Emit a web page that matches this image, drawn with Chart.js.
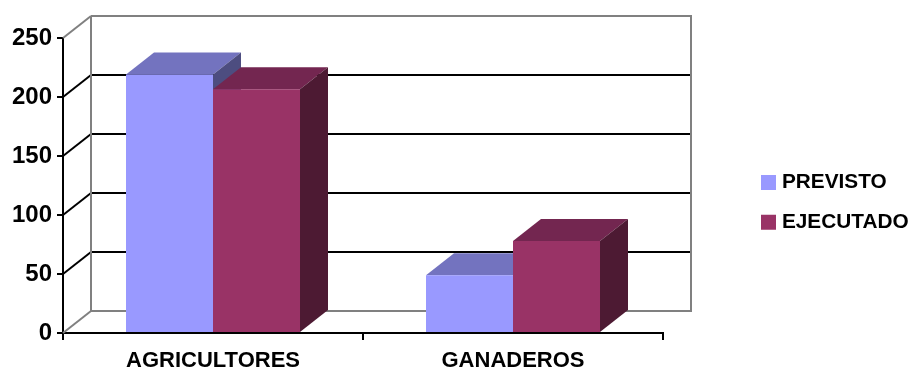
<!DOCTYPE html>
<html><head><meta charset="utf-8">
<style>html,body{margin:0;padding:0;background:#fff}#w{width:910px;height:369px;position:relative}</style>
<script src="https://cdn.jsdelivr.net/npm/chart.js@4"></script>
</head><body><div id="w"><canvas id="c"></canvas></div>
<script>
const categories = ['AGRICULTORES', 'GANADEROS'];
const previsto = [219, 49];
const ejecutado = [206.5, 78];
const seriesNames = ['PREVISTO', 'EJECUTADO'];
const faceColors = ['#9999FF', '#993366'];
const topColors = ['#7373BF', '#732650'];
const sideColors = ['#4D4D80', '#4D1A33'];
const yTicks = [0, 50, 100, 150, 200, 250];
const DX = 28, DY = -22, GRAY = '#808080';

function seg(ctx, x1, y1, x2, y2, col, w) {
  ctx.strokeStyle = col; ctx.lineWidth = w;
  ctx.beginPath(); ctx.moveTo(x1, y1); ctx.lineTo(x2, y2); ctx.stroke();
}
function poly(ctx, pts, col) {
  ctx.fillStyle = col; ctx.beginPath();
  pts.forEach((p, i) => i ? ctx.lineTo(p[0], p[1]) : ctx.moveTo(p[0], p[1]));
  ctx.closePath(); ctx.fill();
}
const depth3d = {
  id: 'depth3d',
  afterLayout(chart) {
    const l = chart.legend;
    const w = l.width, h = l.height;
    l.left = 746.5; l.right = l.left + w; l.top = 153; l.bottom = l.top + h;
  },
  beforeDatasetsDraw(chart) {
    const ctx = chart.ctx, y = chart.scales.y, a = chart.chartArea;
    ctx.save();
    yTicks.forEach(v => {
      const p = y.getPixelForValue(v);
      const edge = v === 0 || v === 250;
      const col = edge ? GRAY : '#000';
      seg(ctx, a.left, p, a.left + DX, p + DY, col, 2);
      seg(ctx, a.left + DX, p + DY, a.right + DX, p + DY, col, 2);
    });
    const t = y.getPixelForValue(250) + DY, b = y.getPixelForValue(0) + DY;
    seg(ctx, a.left + DX, t, a.left + DX, b, GRAY, 2);
    seg(ctx, a.right + DX, t - 1, a.right + DX, b + 1, GRAY, 2);
    const n = chart.data.labels.length;
    for (let d = 0; d < chart.data.datasets.length; d++) {
      const meta = chart.getDatasetMeta(d);
      for (let i = 0; i < n; i++) {
        const bar = meta.data[i].getProps(['x', 'y', 'base', 'width'], true);
        const l = bar.x - bar.width / 2, r = bar.x + bar.width / 2;
        poly(ctx, [[l, bar.y], [r, bar.y], [r + DX, bar.y + DY], [l + DX, bar.y + DY]], topColors[d]);
        poly(ctx, [[r, bar.y], [r + DX, bar.y + DY], [r + DX, bar.base + DY], [r, bar.base]], sideColors[d]);
      }
    }
    ctx.restore();
  }
};
new Chart(document.getElementById('c'), {
  type: 'bar',
  plugins: [depth3d],
  data: {
    labels: categories,
    datasets: [
      { label: seriesNames[0], data: previsto, backgroundColor: faceColors[0], borderWidth: 0 },
      { label: seriesNames[1], data: ejecutado, backgroundColor: faceColors[1], borderWidth: 0 }
    ]
  },
  options: {
    responsive: true, maintainAspectRatio: false, animation: false,
    layout: { padding: { left: 0, right: 247, top: 38, bottom: 0 } },
    datasets: { bar: { categoryPercentage: 0.58, barPercentage: 1 } },
    plugins: {
      tooltip: { enabled: false },
      legend: {
        position: 'chartArea', align: 'start',
        labels: { usePointStyle: true, pointStyle: 'rect', boxWidth: 6, boxHeight: 15, padding: 19, color: '#000',
          font: { family: 'Liberation Sans', weight: 'bold', size: 20.8 } }
      }
    },
    scales: {
      x: {
        afterFit(s) { s.height = 36; },
        border: { color: '#000', width: 2 },
        grid: { drawOnChartArea: false, drawTicks: true, tickLength: 7, color: '#000', lineWidth: 2 },
        ticks: { color: '#000', padding: 8, maxRotation: 0, font: { family: 'Liberation Sans', weight: 'bold', size: 22 } }
      },
      y: {
        min: 0, max: 250,
        afterFit(s) { s.width = 63; },
        border: { color: '#000', width: 2 },
        grid: { drawOnChartArea: false, drawTicks: true, tickLength: 6, color: '#000', lineWidth: 2 },
        ticks: { stepSize: 50, color: '#000', padding: 5, font: { family: 'Liberation Sans', weight: 'bold', size: 24 } }
      }
    }
  }
});
</script></body></html>
